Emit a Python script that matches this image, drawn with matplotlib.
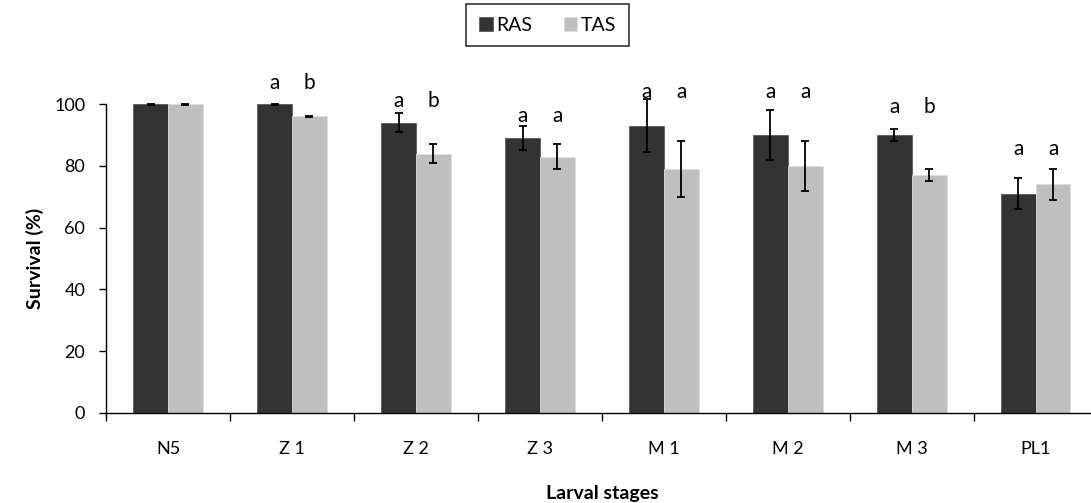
import matplotlib.pyplot as plt
import numpy as np

stages = ['N5', 'Z 1', 'Z 2', 'Z 3', 'M 1', 'M 2', 'M 3', 'PL1']
ras = [100, 100, 94, 89, 93, 90, 90, 71]
tas = [100, 96, 84, 83, 79, 80, 77, 74]
ras_err = [0.2, 0.2, 3, 4, 8.5, 8, 2, 5]
tas_err = [0.2, 0.2, 3, 4, 9, 8, 2, 5]
ras_letters = ['', 'a', 'a', 'a', 'a', 'a', 'a', 'a']
tas_letters = ['', 'b', 'b', 'a', 'a', 'a', 'b', 'a']
letter_y = [0, 107, 101, 96, 104, 104, 99, 85.5]

plt.rcParams['font.family'] = ['Lato', 'DejaVu Sans']

fig = plt.figure(figsize=(10.91, 5.03), dpi=100)
ax = fig.add_axes([0.0972, 0.179, 0.909, 0.614])

x = np.arange(len(stages))
w = 0.28
ax.bar(x - w / 2, ras, w, color='#333333', edgecolor='#5a5a5a', linewidth=0.6, label='RAS')
ax.bar(x + w / 2, tas, w, color='#bfbfbf', edgecolor='#dddddd', linewidth=0.6, label='TAS')
ax.errorbar(x - w / 2, ras, yerr=ras_err, fmt='none', ecolor='black', elinewidth=1.3,
            capsize=3, capthick=1.3, clip_on=False)
ax.errorbar(x + w / 2, tas, yerr=tas_err, fmt='none', ecolor='black', elinewidth=1.3,
            capsize=3, capthick=1.3, clip_on=False)

for i in range(len(stages)):
    ax.text(x[i] - w / 2, letter_y[i], ras_letters[i], ha='center', va='center', fontsize=15)
    ax.text(x[i] + w / 2, letter_y[i], tas_letters[i], ha='center', va='center', fontsize=15)

ax.set_xlim(-0.5, len(stages) - 0.5)
ax.set_ylim(0, 100)
ax.set_yticks(range(0, 101, 20))
ax.tick_params(axis='y', labelsize=13, length=5, width=1, pad=10)

ax.set_xticks(np.arange(len(stages)) - 0.5)
ax.set_xticklabels([])
ax.tick_params(axis='x', which='major', length=6, width=1)
ax.set_xticks(x, minor=True)
ax.set_xticklabels(stages, minor=True)
ax.tick_params(axis='x', which='minor', length=0, labelsize=13, pad=20)

for s in ['top', 'right']:
    ax.spines[s].set_visible(False)
for s in ['left', 'bottom']:
    ax.spines[s].set_linewidth(1)

ax.set_xlabel('Larval stages', fontsize=14, fontweight='bold', labelpad=20)
ax.set_ylabel('Survival (%)', fontsize=14, fontweight='bold', labelpad=7)

leg = fig.legend(loc='upper center', bbox_to_anchor=(0.502, 0.992), ncol=2, fontsize=14,
                 frameon=True, fancybox=False, edgecolor='black', handlelength=0.7,
                 handleheight=0.7, handletextpad=0.2, columnspacing=1.6,
                 borderpad=0.65, borderaxespad=0)
leg.get_frame().set_linewidth(1.2)

fig.savefig('out.png', dpi=100)
